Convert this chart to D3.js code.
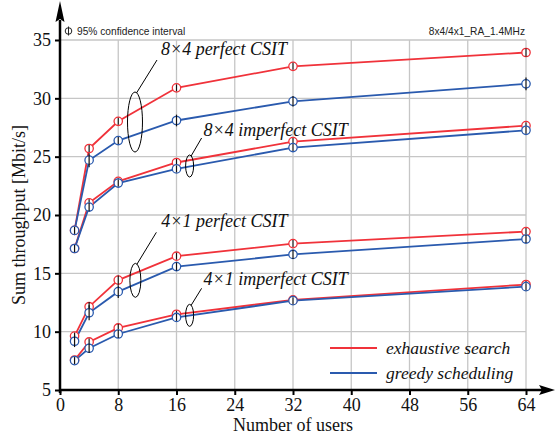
<!DOCTYPE html>
<html>
<head>
<meta charset="utf-8">
<script src="https://cdn.jsdelivr.net/npm/d3@7/dist/d3.min.js"></script>
<style>
  html, body { margin: 0; padding: 0; background: #fff; }
  svg { display: block; }
</style>
</head>
<body>
<svg id="chart" width="555" height="439"></svg>
<script>
// Sum throughput vs. number of users, exhaustive search vs. greedy scheduling
const users = [2, 4, 8, 16, 32, 64];

const perf8x4Exhaustive = [18.68, 25.7, 28.03, 30.9, 32.74, 33.93];
const perf8x4Greedy     = [18.68, 24.7, 26.38, 28.1, 29.74, 31.24];
const imp8x4Exhaustive  = [17.13, 21.04, 22.88, 24.5, 26.29, 27.66];
const imp8x4Greedy      = [17.13, 20.68, 22.74, 23.95, 25.78, 27.26];
const perf4x1Exhaustive = [9.62, 12.14, 14.42, 16.47, 17.55, 18.58];
const perf4x1Greedy     = [9.18, 11.62, 13.43, 15.58, 16.62, 17.94];
const imp4x1Exhaustive  = [7.57, 9.12, 10.32, 11.49, 12.72, 14.04];
const imp4x1Greedy      = [7.52, 8.58, 9.8, 11.22, 12.66, 13.86];

// 95% confidence interval half-widths [Mbit/s]
const ciPerf8x4Exhaustive = [0.3, 0.3, 0.3, 0.3, 0.3, 0.35];
const ciPerf8x4Greedy     = [0.3, 0.6, 0.3, 0.5, 0.45, 0.55];
const ciImp8x4Exhaustive  = [0.3, 0.3, 0.3, 0.3, 0.3, 0.3];
const ciImp8x4Greedy      = [0.3, 0.35, 0.3, 0.3, 0.3, 0.3];
const ciPerf4x1Exhaustive = [0.3, 0.4, 0.4, 0.3, 0.3, 0.3];
const ciPerf4x1Greedy     = [0.5, 0.65, 0.55, 0.35, 0.4, 0.35];
const ciImp4x1Exhaustive  = [0.3, 0.3, 0.35, 0.3, 0.3, 0.3];
const ciImp4x1Greedy      = [0.3, 0.4, 0.35, 0.3, 0.3, 0.3];

const xTicks = [0, 8, 16, 24, 32, 40, 48, 56, 64];
const yTicks = [5, 10, 15, 20, 25, 30, 35];

const schemeNames = ["exhaustive search", "greedy scheduling"];
const schemeColors = ["#f0323a", "#2a5aae"];

const series = [
  { values: perf8x4Exhaustive, ci: ciPerf8x4Exhaustive, scheme: 0 },
  { values: perf8x4Greedy,     ci: ciPerf8x4Greedy,     scheme: 1 },
  { values: imp8x4Exhaustive,  ci: ciImp8x4Exhaustive,  scheme: 0 },
  { values: imp8x4Greedy,      ci: ciImp8x4Greedy,      scheme: 1 },
  { values: perf4x1Exhaustive, ci: ciPerf4x1Exhaustive, scheme: 0 },
  { values: perf4x1Greedy,     ci: ciPerf4x1Greedy,     scheme: 1 },
  { values: imp4x1Exhaustive,  ci: ciImp4x1Exhaustive,  scheme: 0 },
  { values: imp4x1Greedy,      ci: ciImp4x1Greedy,      scheme: 1 }
];

// Curve-group labels: anchor of the bracket ellipse in data units
const groupLabels = [
  { text: "8×4 perfect CSIT",   ax: 10.3, ay: 27.97, rx: 7.5, ry: 30, lineTo: [22, -62], textAt: [26, -67] },
  { text: "8×4 imperfect CSIT", ax: 17.8, ay: 24.2,  rx: 4,   ry: 11, lineTo: [12, -28], textAt: [14, -30] },
  { text: "4×1 perfect CSIT",   ax: 10.35, ay: 14.4, rx: 5.5, ry: 17, lineTo: [21, -48], textAt: [26, -53] },
  { text: "4×1 imperfect CSIT", ax: 17.8, ay: 11.4,  rx: 4,   ry: 11, lineTo: [12, -27], textAt: [14, -30] }
];

const svg = d3.select("#chart");
const serif = "'Liberation Serif', 'Times New Roman', serif";
const sans = "'Liberation Sans', Arial, sans-serif";

const x = d3.scaleLinear().domain([0, 64]).range([60, 526]);
const y = d3.scaleLinear().domain([5, 35]).range([390, 40]);

// grid
const grid = svg.append("g").attr("stroke", "#c6c6c6").attr("stroke-width", 1.3);
grid.selectAll("line.v").data(xTicks.filter(d => d > 0)).join("line")
  .attr("x1", d => x(d)).attr("x2", d => x(d))
  .attr("y1", y(35)).attr("y2", y(5));
grid.selectAll("line.h").data(yTicks.filter(d => d > 5)).join("line")
  .attr("x1", x(0)).attr("x2", x(64))
  .attr("y1", d => y(d)).attr("y2", d => y(d));

// axes
const xAxis = d3.axisBottom(x).tickValues(xTicks).tickSize(5).tickPadding(3).tickFormat(d3.format("d"));
const yAxis = d3.axisLeft(y).tickValues(yTicks).tickSize(5).tickPadding(4).tickFormat(d3.format("d"));

const gx = svg.append("g").attr("transform", `translate(0,${y(5)})`).call(xAxis);
const gy = svg.append("g").attr("transform", `translate(${x(0)},0)`).call(yAxis);
[gx, gy].forEach(g => {
  g.select(".domain").remove();
  g.selectAll(".tick line").attr("stroke", "#000").attr("stroke-width", 2);
  g.selectAll(".tick text").attr("fill", "#111").style("font-family", serif).style("font-size", "18px");
});

// axis lines with arrow heads
svg.append("line").attr("x1", x(0)).attr("x2", 543).attr("y1", y(5)).attr("y2", y(5))
  .attr("stroke", "#000").attr("stroke-width", 2.5);
svg.append("line").attr("x1", x(0)).attr("x2", x(0)).attr("y1", y(5) + 3).attr("y2", 20)
  .attr("stroke", "#000").attr("stroke-width", 2.5);
svg.append("path").attr("d", `M555,${y(5)} L539,${y(5) - 5} L542,${y(5)} L539,${y(5) + 5} Z`).attr("fill", "#000");
svg.append("path").attr("d", `M${x(0)},1 L${x(0) - 4.5},22 L${x(0)},19 L${x(0) + 4.5},22 Z`).attr("fill", "#000");

// axis titles
svg.append("text").attr("x", x(32)).attr("y", 431).attr("text-anchor", "middle")
  .style("font-family", serif).style("font-size", "18px").attr("fill", "#111")
  .text("Number of users");
svg.append("text").attr("transform", `translate(25,${(y(5) + y(35)) / 2}) rotate(-90)`)
  .attr("text-anchor", "middle")
  .style("font-family", serif).style("font-size", "18px").attr("fill", "#111")
  .text("Sum throughput [Mbit/s]");

// lines
const line = d3.line().x((d, i) => x(users[i])).y(d => y(d));
svg.append("g").selectAll("path").data(series).join("path")
  .attr("d", s => line(s.values))
  .attr("fill", "none")
  .attr("stroke", s => schemeColors[s.scheme])
  .attr("stroke-width", 1.8);

// markers and confidence bars
const pts = svg.append("g");
series.forEach(s => {
  const g = pts.append("g");
  g.selectAll("circle").data(s.values).join("circle")
    .attr("cx", (d, i) => x(users[i])).attr("cy", d => y(d)).attr("r", 4.2)
    .attr("fill", "#fff").attr("stroke", schemeColors[s.scheme]).attr("stroke-width", 1.3);
  g.selectAll("line").data(s.values).join("line")
    .attr("x1", (d, i) => x(users[i])).attr("x2", (d, i) => x(users[i]))
    .attr("y1", (d, i) => y(d - s.ci[i])).attr("y2", (d, i) => y(d + s.ci[i]))
    .attr("stroke", "#111").attr("stroke-width", 1.2);
});

// group labels with bracket ellipses
const ann = svg.append("g");
groupLabels.forEach(a => {
  const cx = x(a.ax), cy = y(a.ay);
  const top = cy - a.ry;
  ann.append("ellipse").attr("cx", cx).attr("cy", cy).attr("rx", a.rx).attr("ry", a.ry)
    .attr("fill", "none").attr("stroke", "#000").attr("stroke-width", 1);
  ann.append("line").attr("x1", cx + 1.5).attr("y1", top + 1)
    .attr("x2", cx + a.lineTo[0]).attr("y2", cy + a.lineTo[1])
    .attr("stroke", "#000").attr("stroke-width", 1);
  ann.append("text").attr("x", cx + a.textAt[0]).attr("y", cy + a.textAt[1])
    .style("font-family", serif).style("font-style", "italic").style("font-size", "18px")
    .attr("fill", "#111").text(a.text);
});

// legend
const legend = svg.append("g").attr("transform", "translate(330,348)");
schemeNames.forEach((name, i) => {
  legend.append("line").attr("x1", 0).attr("x2", 47).attr("y1", i * 25).attr("y2", i * 25)
    .attr("stroke", schemeColors[i]).attr("stroke-width", 1.8);
  legend.append("text").attr("x", 56).attr("y", i * 25 + 5.5)
    .style("font-family", serif).style("font-style", "italic").style("font-size", "17.5px")
    .attr("fill", "#111").text(name);
});

// confidence-interval key and scenario tag
const key = svg.append("g");
key.append("circle").attr("cx", 68.5).attr("cy", 31).attr("r", 3.3)
  .attr("fill", "none").attr("stroke", "#222").attr("stroke-width", 1);
key.append("line").attr("x1", 68.5).attr("x2", 68.5).attr("y1", 26.5).attr("y2", 35.5)
  .attr("stroke", "#222").attr("stroke-width", 1);
key.append("text").attr("x", 77).attr("y", 35)
  .style("font-family", sans).style("font-size", "10.2px").attr("fill", "#222")
  .text("95% confidence interval");
svg.append("text").attr("x", 525).attr("y", 35).attr("text-anchor", "end")
  .style("font-family", sans).style("font-size", "10.2px").attr("fill", "#222")
  .text("8x4/4x1_RA_1.4MHz");
</script>
</body>
</html>
